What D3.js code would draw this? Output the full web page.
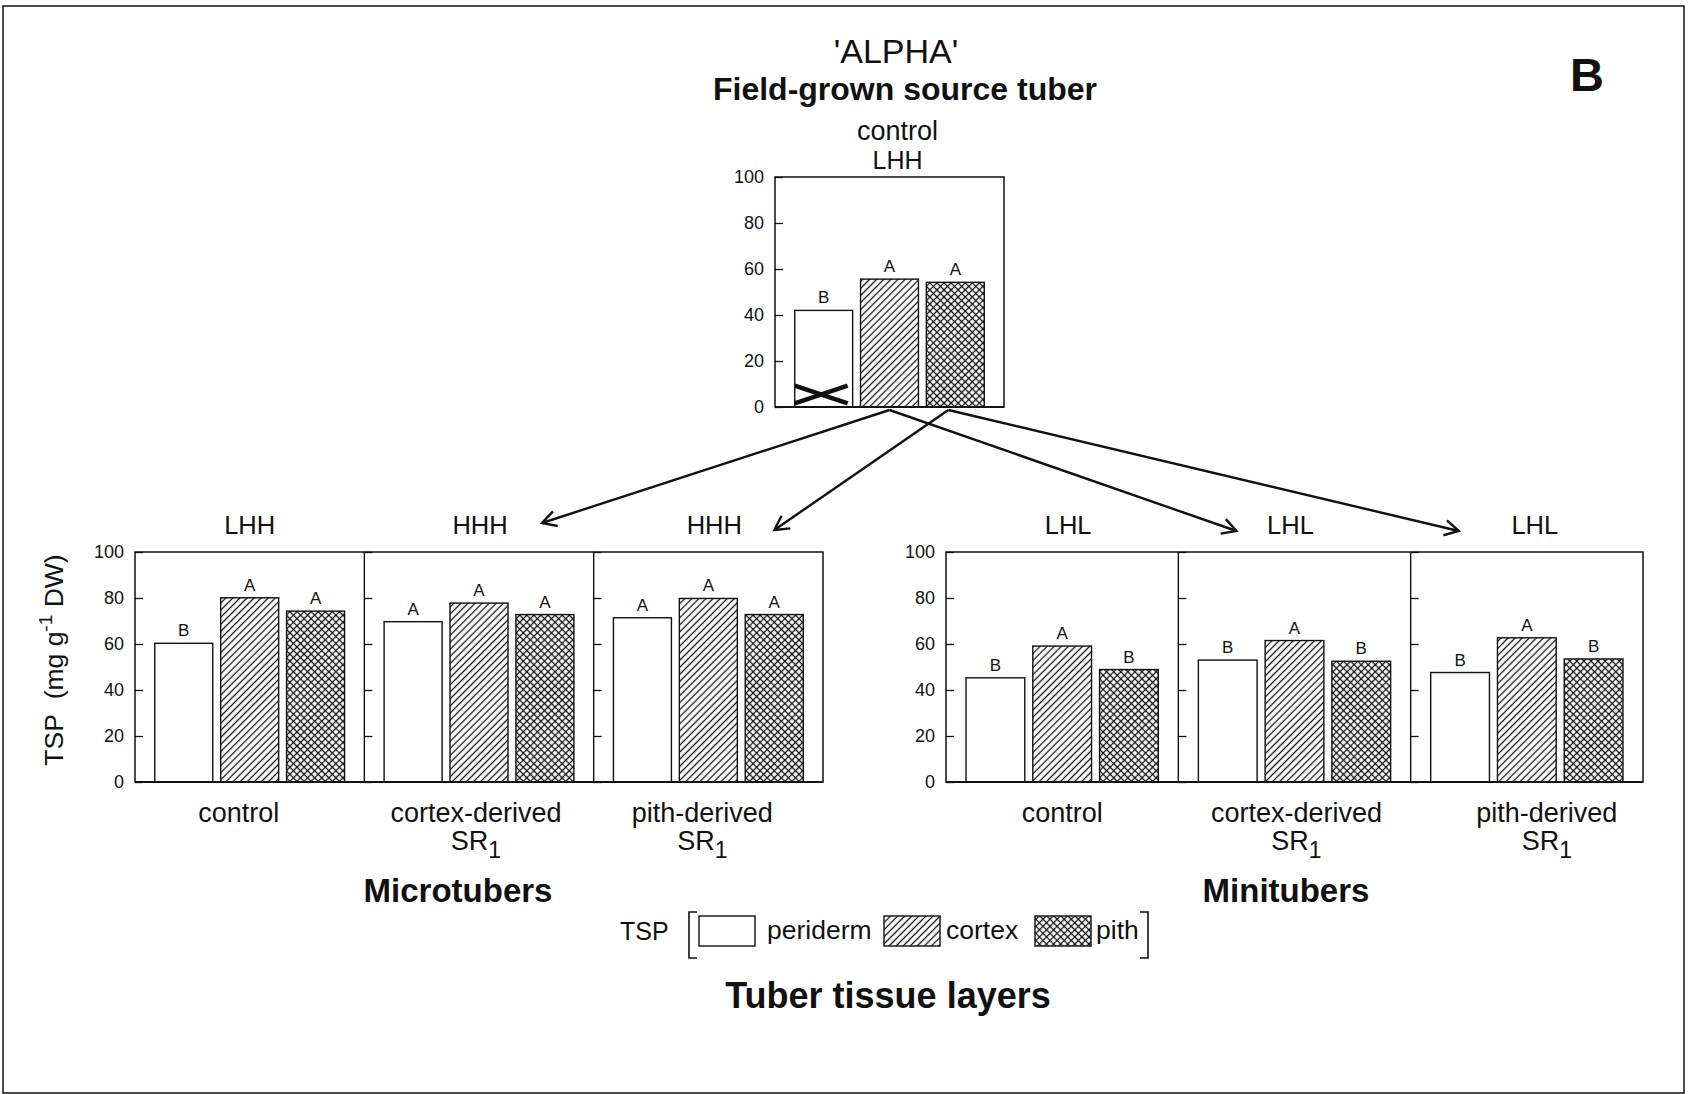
<!DOCTYPE html>
<html>
<head>
<meta charset="utf-8">
<script src="https://cdn.jsdelivr.net/npm/d3@7"></script>
<style>
  html, body { margin: 0; padding: 0; background: #fff; }
  svg { display: block; }
  text { font-family: "Liberation Sans", Arial, Helvetica, sans-serif; fill: #111; }
</style>
</head>
<body>
<svg id="chart" width="1688" height="1094"></svg>
<script>
// ---------------- DATA ----------------
const tissues = ["periderm", "cortex", "pith"];
const yTicks = [0, 20, 40, 60, 80, 100];

// Source tuber (control, LHH)
const sourceValues = [42, 55.6, 54.2];
const sourceLetters = ["B", "A", "A"];
const sourceCross = [9.3, 1.6];          // crossed-out periderm mark (high, low)

// Microtubers
const microTitles = ["LHH", "HHH", "HHH"];
const microLabels = [["control"], ["cortex-derived", "SR"], ["pith-derived", "SR"]];
const microPeriderm = [60.3, 69.7, 71.4];
const microCortex   = [80.1, 77.8, 79.8];
const microPith     = [74.3, 72.8, 72.8];
const microLetters  = [["B", "A", "A"], ["A", "A", "A"], ["A", "A", "A"]];

// Minitubers
const miniTitles = ["LHL", "LHL", "LHL"];
const miniLabels = [["control"], ["cortex-derived", "SR"], ["pith-derived", "SR"]];
const miniPeriderm = [45.3, 53.0, 47.6];
const miniCortex   = [59.1, 61.5, 62.7];
const miniPith     = [48.9, 52.5, 53.5];
const miniLetters  = [["B", "A", "B"], ["B", "A", "B"], ["B", "A", "B"]];

// ---------------- LAYOUT ----------------
(function () {
const svg = d3.select("#chart");
const ink = "#111";
const defs = svg.append("defs");

// hatch patterns
const hs = 5;
const pHatch = defs.append("pattern").attr("id", "hatch").attr("patternUnits", "userSpaceOnUse")
  .attr("width", hs).attr("height", hs).attr("patternTransform", "rotate(45)");
pHatch.append("rect").attr("width", hs).attr("height", hs).attr("fill", "#fff");
pHatch.append("line").attr("x1", hs/2).attr("x2", hs/2).attr("y1", 0).attr("y2", hs)
  .attr("stroke", ink).attr("stroke-width", 1.3);
const pCross = defs.append("pattern").attr("id", "cross").attr("patternUnits", "userSpaceOnUse")
  .attr("width", hs).attr("height", hs).attr("patternTransform", "rotate(45)");
pCross.append("rect").attr("width", hs).attr("height", hs).attr("fill", "#fff");
pCross.append("line").attr("x1", hs/2).attr("x2", hs/2).attr("y1", 0).attr("y2", hs)
  .attr("stroke", ink).attr("stroke-width", 1.3);
pCross.append("line").attr("y1", hs/2).attr("y2", hs/2).attr("x1", 0).attr("x2", hs)
  .attr("stroke", ink).attr("stroke-width", 1.3);
const fills = { periderm: "#fff", cortex: "url(#hatch)", pith: "url(#cross)" };

// outer border
svg.append("rect").attr("x", 3).attr("y", 6).attr("width", 1681).attr("height", 1087)
  .attr("fill", "none").attr("stroke", ink).attr("stroke-width", 1.5);

function barBand(x0, x1) {
  return d3.scaleBand().domain(tissues).range([x0, x1]).paddingInner(0.12).paddingOuter(0.3);
}

function drawYAxis(g, y, x, withLabels) {
  const ax = d3.axisLeft(y).tickValues(yTicks).tickSizeInner(-8).tickSizeOuter(0).tickPadding(11);
  if (!withLabels) ax.tickFormat("");
  const a = g.append("g").attr("transform", `translate(${x},0)`).call(ax);
  a.select(".domain").remove();
  a.selectAll(".tick line").attr("stroke", ink).attr("stroke-width", 1.3);
  a.selectAll(".tick text").attr("fill", ink).style("font-size", "18px")
    .style("font-family", '"Liberation Sans", Arial, sans-serif');
}

function drawBars(g, xb, y, values, letters) {
  tissues.forEach((t, i) => {
    g.append("rect").attr("x", xb(t)).attr("y", y(values[i]))
      .attr("width", xb.bandwidth()).attr("height", y(0) - y(values[i]))
      .attr("fill", fills[t]).attr("stroke", ink).attr("stroke-width", 1.4);
    g.append("text").attr("x", xb(t) + xb.bandwidth() / 2).attr("y", y(values[i]) - 7)
      .attr("text-anchor", "middle").style("font-size", "17px").text(letters[i]);
  });
}

// ---------------- TOP CHART ----------------
const topBox = { x0: 775, x1: 1004, y0: 177, y1: 407 };
const yTop = d3.scaleLinear().domain([0, 100]).range([topBox.y1, topBox.y0]);
const xTop = barBand(topBox.x0, topBox.x1);
const gTop = svg.append("g");
drawYAxis(gTop, yTop, topBox.x0, true);
drawBars(gTop, xTop, yTop, sourceValues, sourceLetters);
gTop.append("rect").attr("x", topBox.x0).attr("y", topBox.y0).attr("width", topBox.x1 - topBox.x0)
  .attr("height", topBox.y1 - topBox.y0).attr("fill", "none").attr("stroke", ink).attr("stroke-width", 1.5);
gTop.append("line").attr("x1", topBox.x0).attr("x2", topBox.x1).attr("y1", topBox.y1).attr("y2", topBox.y1)
  .attr("stroke", ink).attr("stroke-width", 2);
// cross mark on periderm bar
const cx0 = xTop("periderm"), cx1 = xTop("periderm") + xTop.bandwidth() - 5;
gTop.append("line").attr("x1", cx0).attr("y1", yTop(sourceCross[0])).attr("x2", cx1).attr("y2", yTop(sourceCross[1]))
  .attr("stroke", ink).attr("stroke-width", 4.5);
gTop.append("line").attr("x1", cx0).attr("y1", yTop(sourceCross[1])).attr("x2", cx1).attr("y2", yTop(sourceCross[0]))
  .attr("stroke", ink).attr("stroke-width", 4.5);
const topCx = (topBox.x0 + topBox.x1) / 2 + 8;
gTop.append("text").attr("x", topCx).attr("y", 140).attr("text-anchor", "middle").style("font-size", "27px").text("control");
gTop.append("text").attr("x", topCx).attr("y", 169).attr("text-anchor", "middle").style("font-size", "25px").text("LHH");

// ---------------- BOTTOM GROUPS ----------------
const yBot = d3.scaleLinear().domain([0, 100]).range([782, 552]);

function drawGroup(cfg) {
  const g = svg.append("g");
  const panels = d3.scaleBand().domain(d3.range(3)).range([cfg.x0, cfg.x1]);
  d3.range(3).forEach(p => {
    const px = panels(p), pw = panels.bandwidth();
    drawYAxis(g, yBot, px, p === 0);
    const xb = barBand(px, px + pw);
    drawBars(g, xb, yBot, [cfg.peri[p], cfg.cort[p], cfg.pith[p]], cfg.letters[p]);
    if (p > 0) g.append("line").attr("x1", px).attr("x2", px).attr("y1", 552).attr("y2", 782)
      .attr("stroke", ink).attr("stroke-width", 1.4);
    const cxp = px + pw / 2;
    g.append("text").attr("x", cxp + cfg.titleShift[p]).attr("y", 533.5).attr("text-anchor", "middle")
      .style("font-size", "25.5px").text(cfg.titles[p]);
    const lx = cxp + cfg.labelShift[p];
    g.append("text").attr("x", lx).attr("y", 821.5).attr("text-anchor", "middle")
      .style("font-size", "27px").text(cfg.labels[p][0]);
    if (cfg.labels[p][1]) {
      const t = g.append("text").attr("x", lx).attr("y", 850).attr("text-anchor", "middle").style("font-size", "27px");
      t.append("tspan").text(cfg.labels[p][1]);
      t.append("tspan").attr("dy", 8).style("font-size", "23px").text("1");
    }
  });
  g.append("rect").attr("x", cfg.x0).attr("y", 552).attr("width", cfg.x1 - cfg.x0).attr("height", 230)
    .attr("fill", "none").attr("stroke", ink).attr("stroke-width", 1.5);
  g.append("line").attr("x1", cfg.x0).attr("x2", cfg.x1).attr("y1", 782).attr("y2", 782)
    .attr("stroke", ink).attr("stroke-width", 2);
  g.append("text").attr("x", cfg.nameX).attr("y", 902).attr("text-anchor", "middle")
    .style("font-size", "33px").style("font-weight", "bold").text(cfg.name);
  return panels;
}

const microPanels = drawGroup({ x0: 135, x1: 823, peri: microPeriderm, cort: microCortex, pith: microPith,
  letters: microLetters, titles: microTitles, labels: microLabels, titleShift: [0, 1, 6], labelShift: [-11, -3, -6],
  name: "Microtubers", nameX: 458 });
const miniPanels = drawGroup({ x0: 946, x1: 1643, peri: miniPeriderm, cort: miniCortex, pith: miniPith,
  letters: miniLetters, titles: miniTitles, labels: miniLabels, titleShift: [6, -4, 8], labelShift: [0, 2, 20],
  name: "Minitubers", nameX: 1286 });

// ---------------- ARROWS ----------------
const arrows = [
  { from: "cortex", frac: 0.5,  panels: microPanels, idx: 1, dx: 63,  ty: 523 },
  { from: "pith",   frac: 0.38, panels: microPanels, idx: 2, dx: 66,  ty: 530 },
  { from: "cortex", frac: 0.5,  panels: miniPanels,  idx: 1, dx: -58, ty: 531 },
  { from: "pith",   frac: 0.38, panels: miniPanels,  idx: 2, dx: -68, ty: 531 }
];
const gArr = svg.append("g");
arrows.forEach(a => {
  const sx = xTop(a.from) + xTop.bandwidth() * a.frac, sy = topBox.y1 + 3;
  const tx = a.panels(a.idx) + a.panels.bandwidth() / 2 + a.dx, ty = a.ty;
  gArr.append("line").attr("x1", sx).attr("y1", sy).attr("x2", tx).attr("y2", ty)
    .attr("stroke", ink).attr("stroke-width", 2.4);
  const ang = Math.atan2(ty - sy, tx - sx), L = 16, h = 0.5;
  const p1 = [tx - L * Math.cos(ang - h), ty - L * Math.sin(ang - h)];
  const p2 = [tx - L * Math.cos(ang + h), ty - L * Math.sin(ang + h)];
  gArr.append("path").attr("d", `M${p1[0]},${p1[1]}L${tx},${ty}L${p2[0]},${p2[1]}`)
    .attr("fill", "none").attr("stroke", ink).attr("stroke-width", 2.4).attr("stroke-linejoin", "miter");
});

// ---------------- TITLES ----------------
svg.append("text").attr("x", 896).attr("y", 63).attr("text-anchor", "middle").style("font-size", "34px").text("'ALPHA'");
svg.append("text").attr("x", 905).attr("y", 100).attr("text-anchor", "middle").style("font-size", "32px")
  .style("font-weight", "bold").text("Field-grown source tuber");
svg.append("text").attr("x", 1587).attr("y", 91).attr("text-anchor", "middle").style("font-size", "47px")
  .style("font-weight", "bold").text("B");

// Y axis title
const yt = svg.append("text").attr("transform", "translate(63,660) rotate(-90)").attr("text-anchor", "middle")
  .style("font-size", "26.5px");
yt.append("tspan").text("TSP\u00a0\u00a0(mg g");
yt.append("tspan").attr("dy", -11).style("font-size", "19px").text("-1");
yt.append("tspan").attr("dy", 11).text(" DW)");

// ---------------- LEGEND ----------------
const lg = svg.append("g");
lg.append("text").attr("x", 620).attr("y", 940).style("font-size", "25px").text("TSP");
lg.append("path").attr("d", "M697,912 H689 V958 H697").attr("fill", "none").attr("stroke", ink).attr("stroke-width", 1.6);
lg.append("path").attr("d", "M1140,912 H1148 V958 H1140").attr("fill", "none").attr("stroke", ink).attr("stroke-width", 1.6);
const legendItems = [
  { t: "periderm", bx: 699, tx: 767 },
  { t: "cortex", bx: 884, tx: 946 },
  { t: "pith", bx: 1035, tx: 1096 }
];
legendItems.forEach(d => {
  lg.append("rect").attr("x", d.bx).attr("y", 916).attr("width", 56).attr("height", 30)
    .attr("fill", fills[d.t]).attr("stroke", ink).attr("stroke-width", 1.4);
  lg.append("text").attr("x", d.tx).attr("y", 939).style("font-size", "26.5px").text(d.t);
});
svg.append("text").attr("x", 888).attr("y", 1008).attr("text-anchor", "middle").style("font-size", "36px")
  .style("font-weight", "bold").text("Tuber tissue layers");
})();
</script>
</body>
</html>
